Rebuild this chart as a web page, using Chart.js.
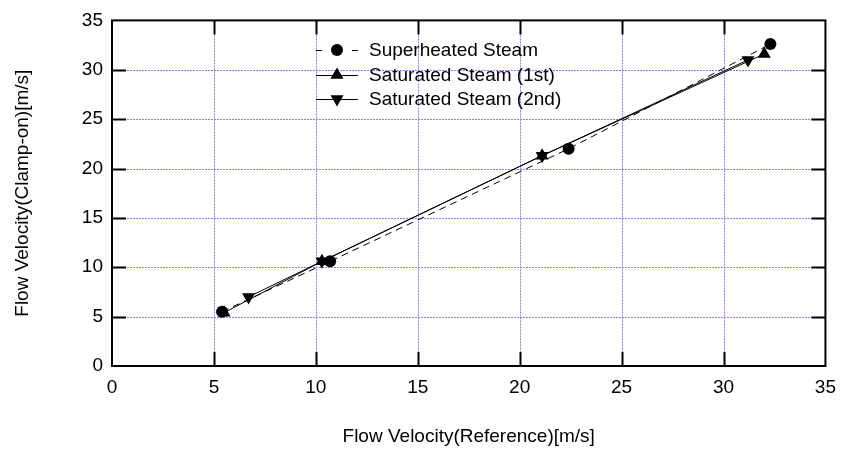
<!DOCTYPE html>
<html>
<head>
<meta charset="utf-8">
<script src="https://cdn.jsdelivr.net/npm/chart.js@4"></script>
<style>
html, body { margin: 0; padding: 0; background: #fff; }
#wrap { width: 846px; height: 454px; }
</style>
</head>
<body>
<div id="wrap"><canvas id="flowChart"></canvas></div>
<script>
// ---------------- data ----------------
const seriesNames = ['Superheated Steam', 'Saturated Steam (1st)', 'Saturated Steam (2nd)'];

const superX = [5.4, 10.7, 22.4, 32.3];
const superY = [5.5, 10.6, 22.0, 32.6];

const sat1X = [5.5, 10.3, 21.1, 32.0];
const sat1Y = [5.4, 10.6, 21.3, 31.6];

const sat2X = [6.7, 10.3, 21.1, 31.2];
const sat2Y = [7.0, 10.6, 21.3, 31.0];

const axisMin = 0;
const axisMax = 35;
const axisStep = 5;

const xTitle = 'Flow Velocity(Reference)[m/s]';
const yTitle = 'Flow Velocity(Clamp-on)[m/s]';

// ---------------- helpers ----------------
const FONT = '"Liberation Sans", Arial, sans-serif';
const GRID_BLUE = 'rgb(130,130,255)';

function toPoints(xs, ys) {
    return xs.map(function (x, i) { return {x: x, y: ys[i]}; });
}

function drawMarker(ctx, style, rot, r, x, y) {
    ctx.save();
    ctx.fillStyle = '#000';
    ctx.beginPath();
    if (style === 'circle') {
        ctx.arc(x, y, r, 0, Math.PI * 2);
    } else {
        var a = rot * Math.PI / 180;
        for (var k = 0; k < 3; k++) {
            var px = x + Math.sin(a) * r, py = y - Math.cos(a) * r;
            if (k === 0) ctx.moveTo(px, py); else ctx.lineTo(px, py);
            a += Math.PI * 2 / 3;
        }
        ctx.closePath();
    }
    ctx.fill();
    ctx.restore();
}

// dotted blue grid, pixel aligned
const dotGrid = {
    id: 'dotGrid',
    beforeDatasetsDraw: function (chart) {
        const ctx = chart.ctx, a = chart.chartArea;
        const xs = chart.scales.x, ys = chart.scales.y;
        ctx.save();
        ctx.strokeStyle = GRID_BLUE;
        ctx.lineWidth = 1;
        ctx.setLineDash([2, 1]);
        ctx.beginPath();
        xs.ticks.forEach(function (t) {
            if (t.value <= axisMin || t.value >= axisMax) return;
            var px = Math.round(xs.getPixelForValue(t.value)) + 0.5;
            ctx.moveTo(px, a.top); ctx.lineTo(px, a.bottom);
        });
        ys.ticks.forEach(function (t) {
            if (t.value <= axisMin || t.value >= axisMax) return;
            var py = Math.round(ys.getPixelForValue(t.value)) + 0.5;
            ctx.moveTo(a.left, py); ctx.lineTo(a.right, py);
        });
        ctx.stroke();
        ctx.restore();
    }
};

// frame with inward tick marks on all four sides
const frameTicks = {
    id: 'frameTicks',
    afterDraw: function (chart) {
        const ctx = chart.ctx, a = chart.chartArea;
        const xs = chart.scales.x, ys = chart.scales.y;
        const len = 14;
        ctx.save();
        ctx.strokeStyle = '#000';
        ctx.lineWidth = 2;
        ctx.strokeRect(a.left, a.top, a.right - a.left, a.bottom - a.top);
        ctx.beginPath();
        xs.ticks.forEach(function (t) {
            if (t.value <= axisMin || t.value >= axisMax) return;
            var px = Math.round(xs.getPixelForValue(t.value)) + 0.5;
            ctx.moveTo(px, a.bottom); ctx.lineTo(px, a.bottom - len);
            ctx.moveTo(px, a.top); ctx.lineTo(px, a.top + len);
        });
        ys.ticks.forEach(function (t) {
            if (t.value <= axisMin || t.value >= axisMax) return;
            var py = Math.round(ys.getPixelForValue(t.value)) + 0.5;
            ctx.moveTo(a.left, py); ctx.lineTo(a.left + len, py);
            ctx.moveTo(a.right, py); ctx.lineTo(a.right - len, py);
        });
        ctx.stroke();
        ctx.restore();
    }
};

// legend: line + marker + label, inside the plot
const lineLegend = {
    id: 'lineLegend',
    afterDraw: function (chart) {
        const ctx = chart.ctx, a = chart.chartArea;
        const x0 = a.left + 204, y0 = a.top + 30, rowH = 24.5, w = 42;
        chart.data.datasets.forEach(function (ds, i) {
            var y = Math.round(y0 + i * rowH);
            ctx.save();
            ctx.strokeStyle = '#000';
            ctx.lineWidth = 1;
            ctx.beginPath();
            if (ds.borderDash && ds.borderDash.length) {
                ctx.moveTo(x0, y + 0.5); ctx.lineTo(x0 + 6, y + 0.5);
                ctx.moveTo(x0 + w - 6, y + 0.5); ctx.lineTo(x0 + w, y + 0.5);
            } else {
                ctx.moveTo(x0, y + 0.5); ctx.lineTo(x0 + w, y + 0.5);
            }
            ctx.stroke();
            drawMarker(ctx, ds.pointStyle, ds.pointRotation || 0, ds.pointRadius, x0 + w / 2, y);
            ctx.fillStyle = '#000';
            ctx.font = '19px ' + FONT;
            ctx.textBaseline = 'middle';
            ctx.textAlign = 'left';
            ctx.fillText(ds.label, x0 + w + 11, y + 1);
            ctx.restore();
        });
    }
};

function makeSet(name, xs, ys, style, rot, dash, r) {
    return {
        label: name,
        data: toPoints(xs, ys),
        showLine: true,
        borderColor: '#000',
        backgroundColor: '#000',
        borderWidth: 1,
        borderDash: dash,
        pointStyle: style,
        pointRotation: rot,
        pointRadius: r,
        pointBorderWidth: 0,
        pointBackgroundColor: '#000',
        tension: 0
    };
}

const axisCommon = {
    type: 'linear',
    min: axisMin,
    max: axisMax,
    ticks: {stepSize: axisStep, color: '#000', font: {family: FONT, size: 19}},
    grid: {display: false, drawTicks: false},
    border: {display: false}
};

new Chart(document.getElementById('flowChart'), {
    type: 'scatter',
    data: {
        datasets: [
            makeSet(seriesNames[0], superX, superY, 'circle', 0, [7, 5], 6),
            makeSet(seriesNames[1], sat1X, sat1Y, 'triangle', 0, [], 7.5),
            makeSet(seriesNames[2], sat2X, sat2Y, 'triangle', 180, [], 7.5)
        ]
    },
    options: {
        responsive: true,
        maintainAspectRatio: false,
        animation: false,
        layout: {padding: {top: 18, right: 14, left: 0, bottom: 0}},
        plugins: {legend: {display: false}, tooltip: {enabled: false}},
        scales: {
            x: Object.assign({}, axisCommon, {
                position: 'bottom',
                ticks: Object.assign({}, axisCommon.ticks, {padding: 10}),
                title: {display: true, text: xTitle, color: '#000', font: {family: FONT, size: 19}, padding: {top: 0, bottom: 6}},
                afterFit: function (s) { s.height = 88; }
            }),
            y: Object.assign({}, axisCommon, {
                position: 'left',
                ticks: Object.assign({}, axisCommon.ticks, {padding: 9}),
                title: {display: true, text: yTitle, color: '#000', font: {family: FONT, size: 19}, padding: {top: 11, bottom: 0}},
                afterFit: function (s) { s.width = 112; }
            })
        }
    },
    plugins: [dotGrid, frameTicks, lineLegend]
});
</script>
</body>
</html>
